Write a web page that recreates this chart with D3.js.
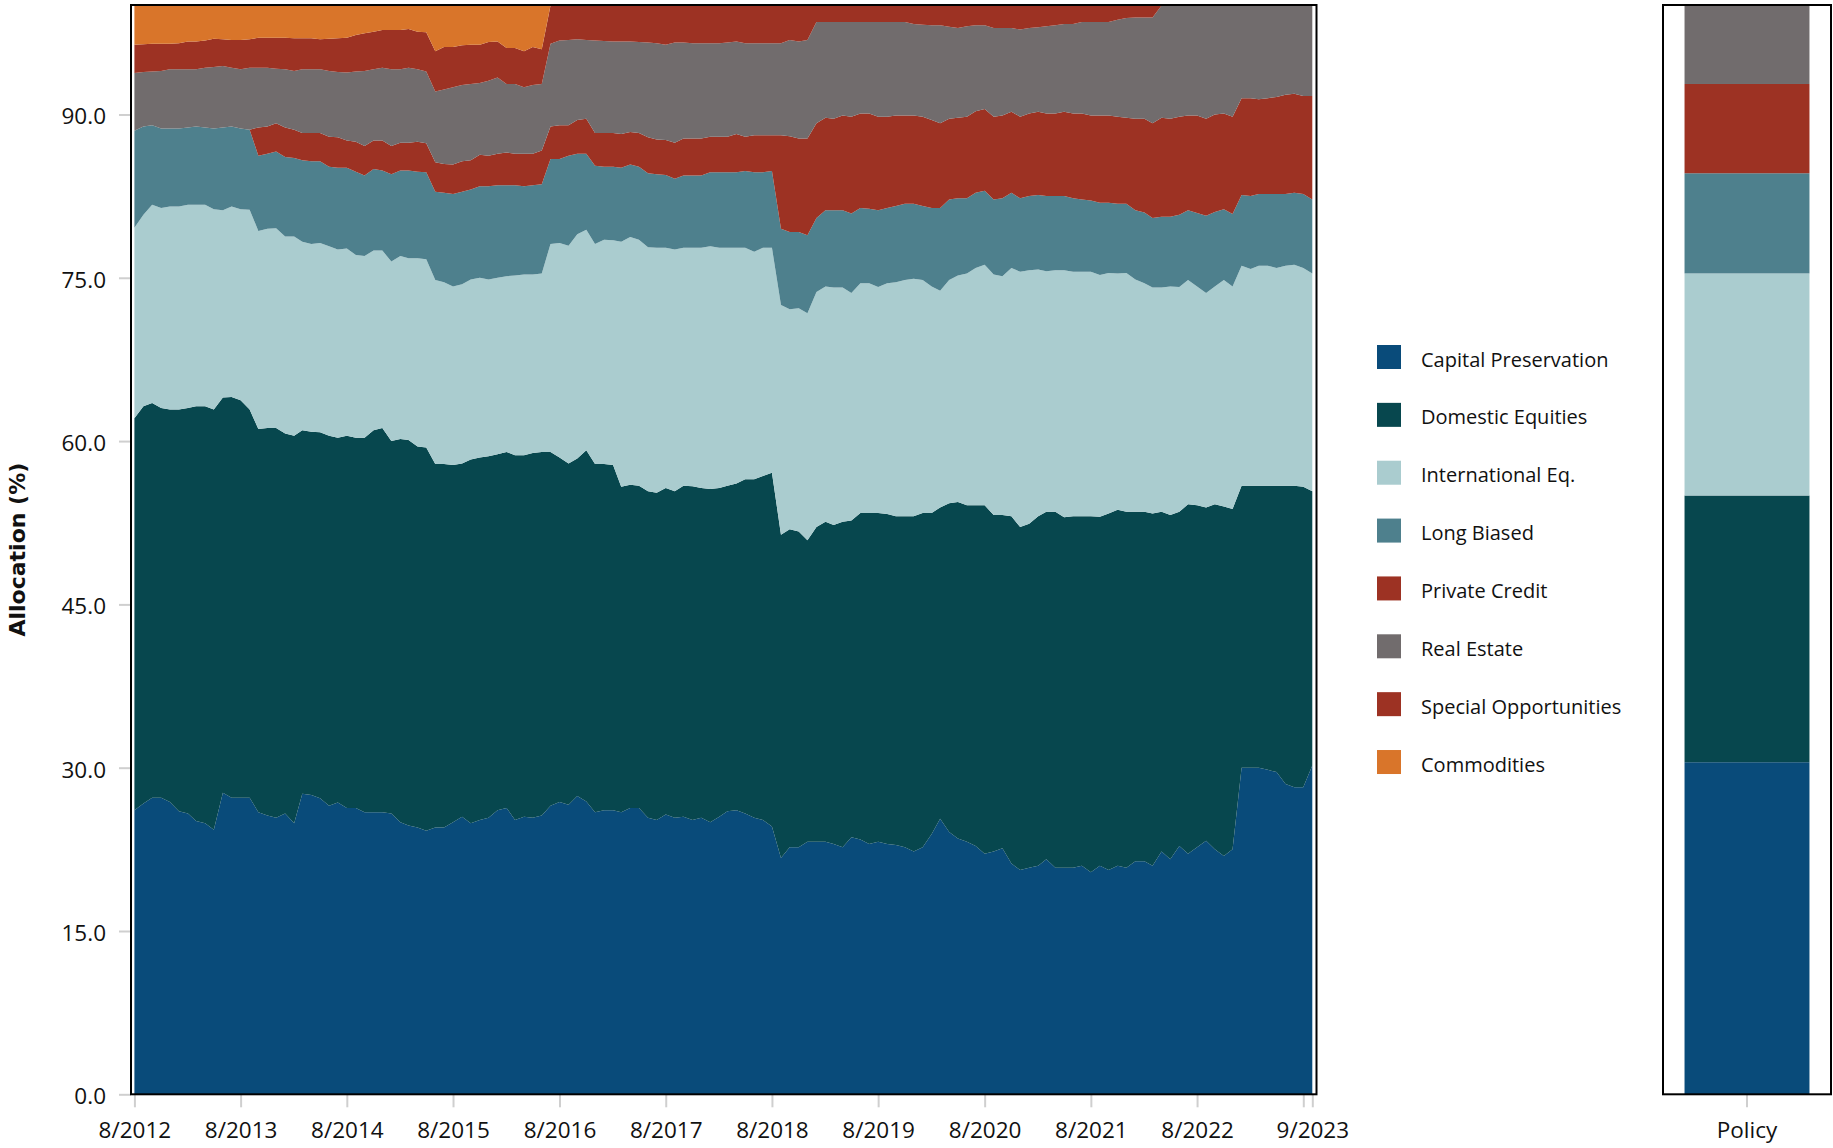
<!DOCTYPE html>
<html>
<head>
<meta charset="utf-8">
<script src="https://cdn.jsdelivr.net/npm/d3@7/dist/d3.min.js"></script>
<style>
  html, body { margin: 0; padding: 0; background: #ffffff; }
  svg { display: block; }
  text { font-family: "Open Sans", "Noto Sans", sans-serif; fill: #111; }
</style>
</head>
<body>
<svg id="chart" width="1833" height="1148"></svg>
<script>
// Monthly allocation history, Aug 2012 – Sep 2023 (percent of portfolio)
const months = d3.timeMonth.range(new Date(2012, 7, 1), new Date(2023, 8, 2));

const seriesNames = ["Capital Preservation", "Domestic Equities", "International Eq.", "Long Biased",
  "Private Credit", "Real Estate", "Special Opportunities", "Commodities"];

const seriesColors = ["#094b7a", "#07474e", "#aacccf", "#4e808d",
  "#9d3223", "#716c6d", "#9d3223", "#d9752a"];

const capitalPreservation = [26.1,26.7,27.25,27.25,26.85,26.0,25.8,25.1,24.9,24.3,
  27.7,27.25,27.25,27.25,25.9,25.6,25.4,25.8,24.9,27.6,
  27.5,27.2,26.5,26.8,26.3,26.3,25.9,25.9,25.9,25.8,
  25.0,24.7,24.5,24.2,24.5,24.5,25.0,25.5,24.9,25.2,
  25.4,26.1,26.3,25.2,25.5,25.4,25.6,26.5,26.85,26.6,
  27.4,26.9,25.9,26.1,26.1,25.9,26.3,26.3,25.4,25.2,
  25.7,25.4,25.5,25.2,25.4,25.0,25.5,26.0,26.1,25.8,
  25.4,25.2,24.6,21.7,22.7,22.7,23.2,23.2,23.2,23.0,
  22.7,23.6,23.4,23.0,23.2,23.0,22.9,22.7,22.3,22.7,
  23.9,25.3,24.1,23.5,23.2,22.8,22.1,22.3,22.6,21.2,
  20.6,20.8,21.0,21.6,20.8,20.8,20.8,21.0,20.4,21.0,
  20.6,21.0,20.8,21.4,21.4,21.0,22.3,21.6,22.8,22.1,
  22.7,23.3,22.5,21.9,22.5,30.0,30.0,30.0,29.8,29.6,
  28.5,28.2,28.2,30.2];

const domesticEquities = [36.0,36.5,36.25,35.8,36.05,36.9,37.25,38.1,38.3,38.6,
  36.3,36.8,36.5,35.65,35.2,35.6,35.8,34.9,35.6,33.4,
  33.35,33.6,34.0,33.5,34.2,34.0,34.4,35.1,35.3,34.2,
  35.2,35.4,35.0,35.2,33.4,33.4,32.8,32.45,33.4,33.3,
  33.2,32.7,32.7,33.5,33.2,33.5,33.4,32.5,31.65,31.35,
  31.0,32.25,32.0,31.8,31.7,29.9,29.7,29.6,30.0,30.05,
  30.0,30.0,30.4,30.65,30.3,30.6,30.2,29.9,30.0,30.7,
  31.1,31.6,32.5,29.7,29.2,29.0,27.7,28.9,29.4,29.3,
  29.9,29.1,30.0,30.4,30.2,30.3,30.2,30.4,30.8,30.7,
  29.5,28.6,30.2,30.9,30.9,31.3,32.0,30.9,30.6,31.9,
  31.5,31.6,32.1,31.9,32.7,32.2,32.3,32.1,32.7,32.05,
  32.75,32.7,32.7,32.1,32.1,32.35,31.2,31.6,30.7,32.1,
  31.4,30.6,31.7,32.1,31.25,25.9,25.9,25.9,26.1,26.3,
  27.4,27.7,27.6,25.2];

const internationalEq = [17.5,17.6,18.2,18.35,18.65,18.65,18.65,18.5,18.5,18.4,
  17.2,17.5,17.55,18.35,18.2,18.3,18.35,18.1,18.3,17.3,
  17.25,17.4,17.4,17.3,17.2,16.8,16.7,16.5,16.3,16.5,
  16.8,16.7,17.3,17.3,16.9,16.7,16.4,16.45,16.55,16.5,
  16.25,16.2,16.15,16.5,16.6,16.4,16.4,19.1,19.7,20.0,
  20.6,20.25,20.2,20.6,20.65,22.5,22.75,22.6,22.4,22.5,
  22.05,22.2,21.85,21.9,22.05,22.3,22.05,21.85,21.65,21.25,
  20.9,20.95,20.65,21.1,20.2,20.5,20.85,21.6,21.6,21.8,
  21.5,20.9,21.1,21.1,20.75,21.2,21.5,21.7,21.8,21.4,
  20.8,19.9,20.5,20.8,21.3,21.8,22.1,22.1,21.95,22.8,
  23.45,23.3,22.65,22.1,22.2,22.7,22.45,22.45,22.45,22.2,
  22.1,21.7,21.95,21.35,21.0,20.75,20.6,21.0,20.65,20.6,
  20.1,19.7,20.0,20.8,20.45,20.2,19.9,20.2,20.2,20.0,
  20.2,20.3,20.1,20.0];

const longBiased = [8.9,8.1,7.3,7.3,7.15,7.15,7.1,7.2,7.1,7.4,
  7.6,7.35,7.4,7.35,6.9,6.9,7.05,7.3,7.2,7.5,
  7.6,7.5,7.3,7.5,7.4,7.65,7.4,7.5,7.35,8.0,
  7.85,8.05,7.95,8.0,8.1,8.2,8.5,8.5,8.25,8.4,
  8.55,8.5,8.35,8.3,8.1,8.2,8.2,7.8,7.7,8.25,
  7.4,7.0,7.2,6.7,6.75,6.8,6.65,6.7,6.8,6.75,
  6.7,6.5,6.65,6.65,6.65,6.8,6.95,6.95,6.95,7.05,
  7.3,6.95,7.05,7.0,7.1,7.0,7.15,6.8,7.0,7.1,
  7.1,7.3,6.9,6.85,7.05,6.9,7.0,7.0,6.9,6.8,
  7.2,7.6,7.4,7.1,6.9,6.9,6.8,6.9,7.15,6.9,
  6.75,6.8,6.85,6.9,6.8,6.8,6.75,6.65,6.55,6.65,
  6.45,6.4,6.35,6.35,6.5,6.4,6.5,6.4,6.65,6.4,
  6.75,7.1,6.85,6.5,6.65,6.5,6.7,6.6,6.6,6.8,
  6.6,6.6,6.8,6.8];

const privateCredit = [0,0,0,0,0,0,0,0,0,0,
  0,0,0,0,2.6,2.5,2.6,2.7,2.6,2.5,
  2.6,2.6,2.75,2.8,2.5,2.75,2.7,2.6,2.75,2.6,
  2.55,2.55,2.75,2.65,2.7,2.65,2.7,2.8,2.7,2.9,
  2.8,2.9,3.0,2.9,3.0,2.9,3.1,3.0,3.1,2.8,
  3.1,3.2,3.0,3.1,3.1,3.1,3.0,3.1,3.3,3.2,
  3.2,3.3,3.4,3.4,3.4,3.25,3.25,3.25,3.5,3.15,
  3.4,3.4,3.3,8.6,8.8,8.6,8.9,8.7,8.5,8.4,
  8.7,8.9,8.7,8.75,8.6,8.4,8.3,8.1,8.1,8.2,
  8.1,7.8,7.4,7.4,7.5,7.5,7.5,7.6,7.6,7.45,
  7.5,7.6,7.65,7.6,7.6,7.75,7.8,7.9,7.8,8.0,
  8.0,8.0,7.9,8.4,8.6,8.7,9.1,9.0,9.0,8.7,
  8.95,8.9,8.95,8.8,8.95,8.9,9.0,8.7,8.8,8.9,
  9.1,9.1,9.0,9.5];

const realEstate = [5.3,5.0,4.95,5.3,5.45,5.45,5.35,5.25,5.5,5.65,
  5.65,5.4,5.45,5.7,5.5,5.4,5.0,5.35,5.4,5.85,
  5.85,5.85,6.05,6.0,6.25,6.45,6.9,6.55,6.7,7.05,
  6.75,6.9,6.65,6.6,6.5,6.85,7.1,7.0,7.0,6.6,
  6.9,7.0,6.3,6.4,6.1,6.3,6.1,7.6,7.8,7.85,
  7.4,7.25,8.5,8.45,8.4,8.5,8.3,8.35,8.7,8.85,
  8.75,9.2,8.8,8.75,8.75,8.6,8.6,8.65,8.5,8.6,
  8.45,8.45,8.45,8.45,8.85,8.9,9.05,9.3,8.8,8.9,
  8.6,8.7,8.4,8.4,8.7,8.7,8.6,8.6,8.4,8.45,
  8.7,9.0,8.45,8.25,8.3,7.9,7.7,8.15,8.05,7.7,
  8.0,7.85,7.75,8.0,8.1,8.05,8.2,8.4,8.6,8.6,
  8.6,8.9,9.15,9.3,9.3,9.7,10.3,10.4,10.2,10.1,
  10.1,10.4,10.0,9.9,10.2,8.5,8.5,8.6,8.5,8.4,
  8.2,8.1,8.3,8.3];

const specialOpportunities = [2.6,2.55,2.55,2.5,2.35,2.4,2.55,2.55,2.5,2.6,
  2.45,2.55,2.7,2.6,2.75,2.75,2.85,2.9,3.0,2.85,
  2.85,2.75,2.95,3.1,3.2,3.35,3.45,3.45,3.45,3.6,
  3.6,3.55,3.45,3.6,3.7,3.9,3.7,3.65,3.6,3.5,
  3.55,3.3,3.3,3.3,3.3,3.5,3.2,3.5,3.2,3.15,
  3.1,3.15,3.2,3.25,3.3,3.3,3.3,3.35,3.4,3.45,
  3.6,3.4,3.4,3.45,3.45,3.45,3.45,3.4,3.3,3.45,
  3.45,3.45,3.45,3.45,3.15,3.3,3.15,1.5,1.5,1.5,
  1.5,1.5,1.5,1.5,1.5,1.5,1.5,1.5,1.7,1.75,
  1.8,1.8,1.95,2.05,1.9,1.8,1.8,2.05,2.05,2.05,
  2.2,2.05,2.0,1.9,1.8,1.7,1.7,1.5,1.5,1.5,
  1.5,1.3,1.15,1.1,1.1,1.1,0,0,0,0,
  0,0,0,0,0,0,0,0,0,0,
  0,0,0,0];

const commodities = [3.6,3.55,3.5,3.5,3.5,3.45,3.3,3.3,3.2,3.05,
  3.1,3.15,3.15,3.1,2.95,2.95,2.95,2.95,3.0,3.0,
  3.0,3.1,3.05,3.0,2.95,2.7,2.55,2.4,2.25,2.25,
  2.25,2.15,2.4,2.45,4.2,3.8,3.8,3.65,3.6,3.6,
  3.35,3.3,3.9,3.9,4.2,3.8,4.0,0,0,0,
  0,0,0,0,0,0,0,0,0,0,
  0,0,0,0,0,0,0,0,0,0,
  0,0,0,0,0,0,0,0,0,0,
  0,0,0,0,0,0,0,0,0,0,
  0,0,0,0,0,0,0,0,0,0,
  0,0,0,0,0,0,0,0,0,0,
  0,0,0,0,0,0,0,0,0,0,
  0,0,0,0,0,0,0,0,0,0,
  0,0,0,0];

// Policy (target) allocation, same category order
const policyNames = ["Capital Preservation", "Domestic Equities", "International Eq.",
  "Long Biased", "Private Credit", "Real Estate"];
const policyValues = [30.5, 24.5, 20.4, 9.2, 8.2, 7.2];

// Axis tick labels
const yTicks = [0, 15, 30, 45, 60, 75, 90];
const xTickLabels = ["8/2012", "8/2013", "8/2014", "8/2015", "8/2016", "8/2017", "8/2018",
  "8/2019", "8/2020", "8/2021", "8/2022", "8/2023", "9/2023"];
const hiddenTickLabels = ["8/2023"];

const seriesValues = [capitalPreservation, domesticEquities, internationalEq, longBiased,
  privateCredit, realEstate, specialOpportunities, commodities];

// ---- layout ----
const svg = d3.select("#chart");
const plot = { left: 131, right: 1316.5, top: 5, bottom: 1094.3 };
const policyBox = { left: 1663, right: 1831 };

const x = d3.scaleTime()
  .domain([months[0], months[months.length - 1]])
  .range([134.4, 1312.3]);

const y = d3.scaleLinear().domain([0, 100]).range([plot.bottom, 5.6]);

const color = d3.scaleOrdinal().domain(seriesNames).range(seriesColors);

// table for the stack: one row per month
const rows = months.map((date, i) => {
  const r = { date };
  seriesNames.forEach((name, k) => { r[name] = seriesValues[k][i]; });
  return r;
});

const stacked = d3.stack().keys(seriesNames)(rows);

const area = d3.area()
  .x(d => x(d.data.date))
  .y0(d => y(d[0]))
  .y1(d => y(d[1]));

svg.append("g").attr("class", "areas")
  .selectAll("path")
  .data(stacked)
  .join("path")
  .attr("d", area)
  .attr("fill", d => color(d.key));

// y axis
const yAxis = svg.append("g")
  .attr("transform", `translate(${plot.left},0)`)
  .call(d3.axisLeft(y).tickValues(yTicks).tickFormat(d3.format(".1f")).tickSize(12).tickPadding(13));
yAxis.select(".domain").remove();
yAxis.selectAll(".tick line").attr("stroke", "#cfcfcf").attr("stroke-width", 2);
yAxis.selectAll(".tick text").style("font-size", "22.5px").attr("dy", "0.42em").attr("fill", "#111");

// x axis
const parseTick = d3.timeParse("%m/%Y");
const xTickDates = xTickLabels.map(parseTick);
const xAxis = svg.append("g")
  .attr("transform", `translate(0,${plot.bottom})`)
  .call(d3.axisBottom(x).tickValues(xTickDates).tickSize(13).tickPadding(15)
    .tickFormat((d, i) => hiddenTickLabels.includes(xTickLabels[i]) ? "" : xTickLabels[i]));
xAxis.select(".domain").remove();
xAxis.selectAll(".tick line").attr("stroke", "#cfcfcf").attr("stroke-width", 2);
xAxis.selectAll(".tick text").style("font-size", "22.5px").attr("fill", "#111");

// frame around the history panel
svg.append("rect")
  .attr("x", plot.left).attr("y", plot.top)
  .attr("width", plot.right - plot.left).attr("height", plot.bottom - plot.top)
  .attr("fill", "none").attr("stroke", "#000").attr("stroke-width", 2);

// y axis title
svg.append("text")
  .attr("transform", `translate(17,${(plot.top + plot.bottom) / 2}) rotate(-90)`)
  .attr("text-anchor", "middle")
  .attr("dominant-baseline", "central")
  .style("font-family", "'DejaVu Sans', sans-serif")
  .style("font-weight", "bold")
  .style("font-size", "22px")
  .attr("fill", "#000")
  .text("Allocation (%)");

// ---- legend ----
const legend = svg.append("g").attr("transform", "translate(1377,345)");
const legendItems = legend.selectAll("g")
  .data(seriesNames)
  .join("g")
  .attr("transform", (d, i) => `translate(0,${i * 57.86})`);
legendItems.append("rect")
  .attr("width", 24).attr("height", 24)
  .attr("fill", d => color(d));
legendItems.append("text")
  .attr("x", 44).attr("y", 21.5)
  .style("font-size", "20px")
  .attr("fill", "#111")
  .text(d => d);

// ---- policy panel ----
const band = d3.scaleBand().domain(["Policy"])
  .range([policyBox.left, policyBox.right]).padding(0.147);

let cum = 0;
const policySegments = policyNames.map((name, i) => {
  const seg = { name, y0: cum, y1: cum + policyValues[i] };
  cum += policyValues[i];
  return seg;
});

svg.append("g").selectAll("rect")
  .data(policySegments)
  .join("rect")
  .attr("x", band("Policy"))
  .attr("width", band.bandwidth())
  .attr("y", d => y(d.y1))
  .attr("height", d => y(d.y0) - y(d.y1))
  .attr("fill", d => color(d.name));

const pAxis = svg.append("g")
  .attr("transform", `translate(0,${plot.bottom})`)
  .call(d3.axisBottom(band).tickSize(13).tickPadding(15));
pAxis.select(".domain").remove();
pAxis.selectAll(".tick line").attr("stroke", "#cfcfcf").attr("stroke-width", 2);
pAxis.selectAll(".tick text").style("font-size", "22.5px").attr("fill", "#111");

svg.append("rect")
  .attr("x", policyBox.left).attr("y", plot.top)
  .attr("width", policyBox.right - policyBox.left).attr("height", plot.bottom - plot.top)
  .attr("fill", "none").attr("stroke", "#000").attr("stroke-width", 2);
</script>
</body>
</html>
